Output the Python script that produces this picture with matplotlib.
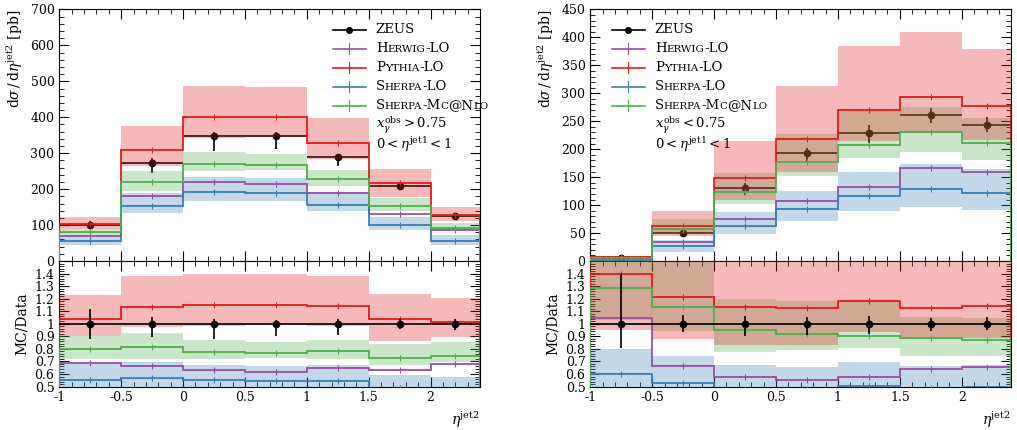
import numpy as np
import matplotlib
matplotlib.use("Agg")
import matplotlib.pyplot as plt
from matplotlib.ticker import MultipleLocator, FixedLocator, FuncFormatter
from matplotlib.offsetbox import AnchoredOffsetbox, DrawingArea, HPacker, VPacker, TextArea
from matplotlib.lines import Line2D
from matplotlib.text import Text

plt.rcParams['font.family'] = ['DejaVu Serif']
plt.rcParams['mathtext.fontset'] = 'dejavuserif'

# bin edges in eta^jet2
edges = np.array([-1.0, -0.5, 0.0, 0.5, 1.0, 1.5, 2.0, 2.4])

# ---- x_gamma^obs > 0.75 (left) ----
zeus_hi = [100, 272, 348, 348, 289, 208, 125]
zeus_hi_elo = [12, 28, 42, 35, 25, 9, 6]
zeus_hi_eup = [12, 14, 12, 10, 10, 8, 5]
herwig_hi = [69, 181, 221, 215, 188, 132, 85]
pythia_hi = [104, 308, 401, 401, 329, 216, 127]
pythia_hi_lo = [90, 264, 341, 344, 283, 179, 112]
pythia_hi_up = [123, 375, 487, 485, 399, 257, 151]
sherpa_hi = [55, 154, 192, 190, 157, 101, 57]
sherpa_hi_lo = [45, 133, 168, 166, 138, 87, 45]
sherpa_hi_up = [68, 189, 235, 230, 193, 123, 72]
mcnlo_hi = [80, 221, 270, 268, 227, 152, 93]
mcnlo_hi_lo = [72, 196, 251, 252, 208, 139, 87]
mcnlo_hi_up = [90, 251, 302, 298, 252, 175, 107]

# ---- x_gamma^obs < 0.75 (right) ----
zeus_lo = [4.5, 51, 131, 193, 229, 261, 243]
zeus_lo_elo = [0.85, 3.5, 13, 17, 18, 15, 12]
zeus_lo_eup = [1.8, 3.5, 8, 10, 14, 13, 14]
herwig_lo = [4.7, 34, 75, 107, 132, 166, 159]
pythia_lo = [6.3, 62, 149, 218, 270, 294, 277]
pythia_lo_lo = [4.26, 45, 109, 160, 214, 229, 216]
pythia_lo_up = [9, 90, 214, 313, 384, 410, 379]
sherpa_lo = [2.7, 27, 62, 93, 116, 128.5, 121]
sherpa_lo_lo = [1.4, 17, 48, 71, 89, 96, 92]
sherpa_lo_up = [3.6, 38, 88, 126, 159, 174, 164]
mcnlo_lo = [5.8, 58, 124, 177, 207, 231, 211]
mcnlo_lo_lo = [4.65, 48, 102, 152, 185, 195, 180]
mcnlo_lo_up = [7.6, 76, 157, 228, 270, 276, 255]

C_HER = '#984ea3'
C_PYT = '#e41a1c'
C_SHE = '#377eb8'
C_NLO = '#4daf4a'
FS = 10
LFS = 9.5
SC = 7.4
ROWH = 13.7  # legend row height in points


def sc_label(parts):
    boxes = [TextArea(t, textprops=dict(fontsize=SC if small else LFS)) for t, small in parts]
    return HPacker(children=boxes, align='baseline', pad=0, sep=0)


def handle(color, dot):
    da = DrawingArea(24, ROWH, 0, 0)
    m = ROWH / 2
    da.add_artist(Line2D([0, 24], [m, m], color=color, lw=1.2))
    if dot:
        da.add_artist(Line2D([12], [m], marker='o', ms=4, color=color))
    else:
        da.add_artist(Line2D([12, 12], [m - 4, m + 4], color=color, lw=0.8))
    return da


def add_legend(ax, xg_text, x0):
    entries = [
        ('k', True, [("ZEUS", False)]),
        (C_HER, False, [("H", False), ("ERWIG", True), ("-LO", False)]),
        (C_PYT, False, [("P", False), ("YTHIA", True), ("-LO", False)]),
        (C_SHE, False, [("S", False), ("HERPA", True), ("-LO", False)]),
        (C_NLO, False, [("S", False), ("HERPA", True), ("-M", False), ("C", True),
                        ("@N", False), ("LO", True)]),
    ]
    rows = []
    for col, dot, parts in entries:
        rows.append(HPacker(children=[handle(col, dot), sc_label(parts)],
                            align='center', pad=0, sep=7))
    for t in [xg_text, r'$0 < \eta^{\mathrm{jet1}} < 1$']:
        da = DrawingArea(80, ROWH, 0, 0)
        da.add_artist(Text(0, ROWH / 2 - 0.5, t, va='center', ha='left', fontsize=LFS))
        rows.append(HPacker(children=[DrawingArea(24, ROWH, 0, 0), da],
                            align='center', pad=0, sep=7))
    box = VPacker(children=rows, align='left', pad=0, sep=0)
    anc = AnchoredOffsetbox(loc='upper left', child=box, pad=0, borderpad=0,
                            frameon=False, bbox_to_anchor=(x0, 0.958),
                            bbox_transform=ax.transAxes)
    ax.add_artist(anc)


def band(ax, lo, up, color, z):
    ax.stairs(up, edges, baseline=lo, fill=True, color=color, alpha=0.3, lw=0, zorder=z)


def panel(ax, rax, data, elo, eup, her, pyt, pyt_lo, pyt_up, she, she_lo, she_up,
          nlo, nlo_lo, nlo_up, ymax, ymaj, ymin):
    data = np.array(data, float)
    centers = 0.5 * (edges[1:] + edges[:-1])
    xerr = 0.5 * np.diff(edges)
    # main
    ax.errorbar(centers, data, yerr=[elo, eup], xerr=xerr, fmt='o', color='k',
                ms=4.5, lw=1.2, capsize=0, zorder=2)
    band(ax, she_lo, she_up, C_SHE, 3)
    band(ax, nlo_lo, nlo_up, C_NLO, 3)
    band(ax, pyt_lo, pyt_up, C_PYT, 3)
    for vals, c in [(her, C_HER), (pyt, C_PYT), (she, C_SHE), (nlo, C_NLO)]:
        ax.stairs(vals, edges, color=c, lw=1.3, zorder=4)
        ax.plot(centers, vals, ls='none', marker='|', ms=4, mew=0.8, color=c, zorder=4)
    ax.set_xlim(edges[0], edges[-1])
    ax.set_ylim(0, ymax)
    ax.yaxis.set_major_locator(MultipleLocator(ymaj))
    ax.yaxis.set_minor_locator(MultipleLocator(ymin))
    ax.set_ylabel(r'$\mathrm{d}\sigma\,/\,\mathrm{d}\eta^{\mathrm{jet2}}$ [pb]',
                  loc='top', fontsize=FS)

    # ratio
    def r(v):
        return np.array(v, float) / data
    band(rax, r(she_lo), r(she_up), C_SHE, 3)
    band(rax, r(nlo_lo), r(nlo_up), C_NLO, 3)
    band(rax, r(pyt_lo), r(pyt_up), C_PYT, 3)
    for vals, c in [(her, C_HER), (pyt, C_PYT), (she, C_SHE), (nlo, C_NLO)]:
        rax.stairs(r(vals), edges, color=c, lw=1.3, zorder=4)
        rax.plot(centers, r(vals), ls='none', marker='|', ms=4, mew=0.8, color=c, zorder=4)
    rax.errorbar(centers, np.ones_like(data), yerr=[np.array(elo) / data, np.array(eup) / data],
                 xerr=xerr, fmt='o', color='k', ms=4.5, lw=1.2, capsize=0, zorder=5)
    rax.set_xlim(edges[0], edges[-1])
    rax.set_ylim(0.5, 1.5)
    rax.yaxis.set_major_locator(FixedLocator(np.arange(0.5, 1.45, 0.1)))
    rax.yaxis.set_minor_locator(MultipleLocator(0.02))
    rax.yaxis.set_major_formatter(FuncFormatter(lambda v, p: f'{v:g}'))
    rax.set_ylabel('MC/Data', fontsize=FS)
    rax.set_xlabel(r'$\eta^{\mathrm{jet2}}$', loc='right', fontsize=FS)

    for a in (ax, rax):
        a.xaxis.set_major_locator(MultipleLocator(0.5))
        a.xaxis.set_minor_locator(MultipleLocator(0.1))
        a.xaxis.set_major_formatter(FuncFormatter(lambda v, p: f'{v:g}'))
        a.tick_params(which='both', direction='in', top=True, right=True, labelsize=9)
        a.tick_params(which='major', length=7, width=0.8)
        a.tick_params(which='minor', length=3.5, width=0.6)
    ax.tick_params(labelbottom=False)


fig = plt.figure(figsize=(10.17, 4.30), dpi=100)
axL = fig.add_axes([0.0583, 0.393, 0.4137, 0.585])
rL = fig.add_axes([0.0583, 0.101, 0.4137, 0.292])
axR = fig.add_axes([0.5804, 0.393, 0.414, 0.585])
rR = fig.add_axes([0.5804, 0.101, 0.414, 0.292])

panel(axL, rL, zeus_hi, zeus_hi_elo, zeus_hi_eup, herwig_hi, pythia_hi, pythia_hi_lo,
      pythia_hi_up, sherpa_hi, sherpa_hi_lo, sherpa_hi_up, mcnlo_hi, mcnlo_hi_lo,
      mcnlo_hi_up, 700, 100, 20)
panel(axR, rR, zeus_lo, zeus_lo_elo, zeus_lo_eup, herwig_lo, pythia_lo, pythia_lo_lo,
      pythia_lo_up, sherpa_lo, sherpa_lo_lo, sherpa_lo_up, mcnlo_lo, mcnlo_lo_lo,
      mcnlo_lo_up, 450, 50, 10)

add_legend(axL, r'$x_{\gamma}^{\mathrm{obs}} > 0.75$', 0.65)
add_legend(axR, r'$x_{\gamma}^{\mathrm{obs}} < 0.75$', 0.051)

fig.savefig('out.png', dpi=100)
